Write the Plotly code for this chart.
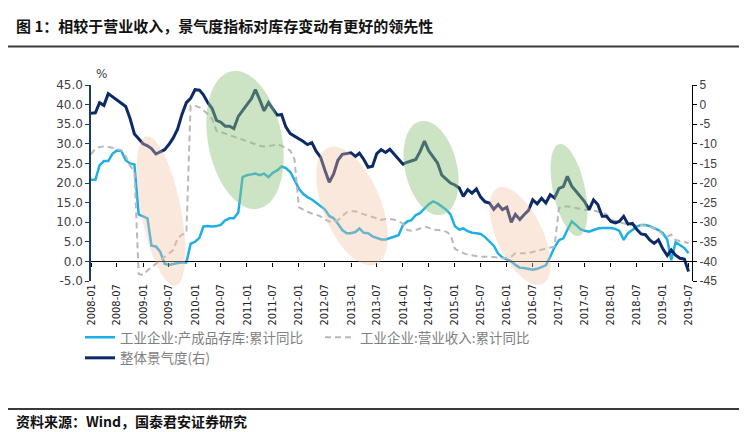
import numpy as np
import pandas as pd
import plotly.graph_objects as go

# ---------------- data ----------------
dates = pd.date_range("2008-01-01", periods=139, freq="MS")

# 工业企业:产成品存库:累计同比 (left axis, %)
inventory_yoy = [
    20.8, 20.8, 24.5, 25.6, 25.6, 27.5, 28.3, 28.2, 25.8, 25.0, 24.7, 12.0,
    11.5, 11.0, 4.0, 3.8, 2.5, -0.6, -0.9, -0.6, -0.4, -0.3, -0.3, 4.5,
    5.0, 6.0, 8.9, 9.0, 8.9, 9.0, 9.3, 10.5, 11.0, 11.0, 12.5, 21.5,
    22.0, 22.2, 22.4, 22.0, 22.4, 21.5, 22.6, 23.2, 24.2, 23.8, 22.8, 20.8,
    18.5, 17.2, 16.4, 15.8, 15.0, 14.1, 13.3, 11.6, 11.0, 9.6, 8.0, 7.2,
    7.2, 7.5, 8.4, 7.3, 7.2, 6.4, 6.0, 5.6, 5.6, 6.0, 6.3, 6.7,
    9.3, 10.2, 10.5, 11.8, 12.3, 13.4, 14.6, 15.3, 14.8, 14.0, 13.2, 12.0,
    9.0, 8.1, 8.4, 7.7, 7.3, 7.2, 7.0, 6.2, 5.0, 4.0, 2.0, 1.0,
    0.5, 0.0, -0.9, -1.6, -1.7, -2.0, -2.1, -1.9, -1.5, -1.0, 1.2, 3.6,
    5.4, 5.9, 8.0, 10.2, 9.3, 8.2, 7.8, 7.6, 8.0, 8.4, 8.5, 8.5,
    8.5, 8.3, 7.8, 5.5, 7.2, 8.0, 8.9, 9.3, 9.3, 9.0, 8.5, 8.0,
    7.2, 5.6, 0.3, 4.9, 4.2, 3.4, 2.1,
]

# 工业企业:营业收入:累计同比 (left axis, %)
revenue_yoy = [
    27.3, 28.8, 29.2, 29.3, 29.2, 29.0, 28.6, 28.4, 26.8, 24.5, 22.8, -3.2,
    -3.5, -2.3, -1.5, -0.6, 0.2, 1.0, 1.8, 2.9, 5.9, 6.8, 7.2, 39.7,
    39.7, 39.3, 38.5, 37.6, 36.4, 33.3, 33.0, 32.6, 32.2, 31.7, 31.3, 31.0,
    30.6, 30.2, 29.8, 29.5, 29.3, 29.4, 29.6, 29.8, 29.5, 28.8, 28.3, 26.0,
    13.8, 13.2, 12.7, 12.2, 11.9, 11.5, 10.7, 10.2, 10.2, 10.5, 11.6, 12.5,
    12.8, 12.8, 12.4, 12.0, 11.6, 11.2, 10.8, 10.6, 10.8, 10.8, 10.6, 10.3,
    9.6, 8.0, 7.8, 8.0, 8.4, 8.9, 8.6, 8.1, 8.0, 7.9, 7.6, 6.8,
    3.2, 2.6, 2.1, 1.7, 1.5, 1.3, 1.2, 1.2, 1.2, 1.1, 1.0, 0.8,
    0.9, 1.2, 2.1, 2.1, 2.1, 2.1, 2.4, 2.7, 3.0, 3.4, 3.6, 3.8,
    13.6, 14.0, 14.0, 13.9, 13.6, 13.4, 13.2, 13.2, 13.0, 12.8, 12.5, 12.0,
    10.6, 10.3, 10.1, 9.7, 9.4, 9.3, 9.3, 9.3, 9.1, 8.9, 8.4, 8.0,
    6.8, 6.4, 6.8, 5.5, 5.2, 5.0, 4.6,
]

# 整体景气度 (right axis)
climate_index = [
    -2.2, -2.1, 0.5, -0.2, 2.8, 2.0, 1.3, 0.5, -0.5, -3.5, -7.5, -8.7,
    -10.0, -10.5, -11.2, -12.6, -12.0, -11.5, -10.2, -8.5, -6.2, -2.5, 0.5, 1.6,
    3.8, 3.7, 2.5, 0.5, -1.0, -4.0, -4.5, -5.5, -5.5, -6.1, -3.0, -1.4,
    0.0, 1.5, 3.8, 1.2, -1.6, 0.5, -1.2, -2.7, -2.5, -5.7, -7.4, -8.0,
    -8.8, -9.4, -10.2, -9.7, -11.9, -13.4, -16.7, -19.8, -17.7, -14.2, -12.7, -12.5,
    -12.3, -13.2, -12.4, -14.0, -16.0, -15.7, -12.5, -11.5, -12.2, -11.4, -12.7, -13.8,
    -15.2, -14.7, -14.3, -14.0, -12.0, -9.3, -11.8, -13.2, -14.9, -18.0, -19.0, -20.0,
    -20.5, -21.3, -23.4, -21.7, -22.6, -21.5, -23.6, -24.8, -25.1, -26.7, -25.5, -26.8,
    -26.2, -30.0, -28.0, -29.3, -28.1, -27.0, -24.3, -25.3, -23.9, -25.1, -23.0, -23.8,
    -21.4, -20.9, -18.3, -20.8, -22.1, -23.5, -24.8, -26.8, -24.3, -25.5, -28.5, -28.5,
    -29.8, -30.2, -29.8, -28.5, -30.5, -30.3, -31.8, -33.0, -33.2, -34.5, -35.4, -34.5,
    -36.8, -38.5, -37.1, -38.4, -39.2, -39.4, -42.6,
]

left_tickvals = [-5, 0, 5, 10, 15, 20, 25, 30, 35, 40, 45]
left_ticktext = ["-5.0", "0.0", "5.0", "10.0", "15.0", "20.0", "25.0", "30.0", "35.0", "40.0", "45.0"]
right_tickvals = [-45, -40, -35, -30, -25, -20, -15, -10, -5, 0, 5]
right_ticktext = ["-45", "-40", "-35", "-30", "-25", "-20", "-15", "-10", "-5", "0", "5"]

names = ["工业企业:产成品存库:累计同比", "工业企业:营业收入:累计同比", "整体景气度(右)"]

# ---------------- layout helpers ----------------
W, H = 747, 432
PL, PR, PT, PB = 83, 684, 77, 273


def fx(px):
    return (px - PL) / (PR - PL)


def fy(py):
    return (PB - py) / (PB - PT)


def ellipse_path(cx, cy, a, b, tilt):
    t = np.linspace(0, 2 * np.pi, 73)
    th = np.radians(tilt)
    ux, uy = np.sin(th), np.cos(th)
    vx, vy = np.cos(th), -np.sin(th)
    px = cx + a * np.cos(t) * ux + b * np.sin(t) * vx
    py = cy + a * np.cos(t) * uy + b * np.sin(t) * vy
    pts = [f"{fx(x):.4f},{fy(y):.4f}" for x, y in zip(px, py)]
    return "M " + " L ".join(pts) + " Z"


GREEN = "rgba(145,195,125,0.45)"
PEACH = "rgba(245,190,160,0.36)"
highlight_specs = [
    (153, 203, 76, 20, 11, PEACH),
    (237, 132, 70, 37, 11, GREEN),
    (344, 198, 63, 29, 22, PEACH),
    (423, 160, 48, 26, 13, GREEN),
    (512, 228, 53, 23, 25, PEACH),
    (561, 182, 47, 16, 12, GREEN),
]

NAVY = "#0c2a66"
LIGHT = "#1eafe6"
GREY = "#b9b9b9"

fig = go.Figure()
fig.add_trace(go.Scatter(x=dates, y=inventory_yoy, name=names[0], mode="lines",
                         line=dict(color=LIGHT, width=2.5)))
fig.add_trace(go.Scatter(x=dates, y=revenue_yoy, name=names[1], mode="lines",
                         line=dict(color=GREY, width=2, dash="6px,4px")))
fig.add_trace(go.Scatter(x=dates, y=climate_index, name=names[2], mode="lines", yaxis="y2",
                         line=dict(color=NAVY, width=3)))
# carrier for the zero-positioned axis line with ticks
fig.add_trace(go.Scatter(x=dates, y=inventory_yoy, xaxis="x2", yaxis="y", mode="lines",
                         opacity=0, showlegend=False, hoverinfo="skip"))

xrange = ["2008-01-01", "2019-07-25"]
shapes = [
    dict(type="path", path=ellipse_path(*s[:5]), xref="paper", yref="paper",
         fillcolor=s[5], line=dict(width=0), layer="above")
    for s in highlight_specs
]
shapes += [
    dict(type="line", xref="paper", yref="paper", x0=fx(0), x1=fx(W), y0=fy(38.5), y1=fy(38.5),
         line=dict(color="#3a3a3a", width=2)),
    dict(type="line", xref="paper", yref="paper", x0=fx(0), x1=fx(W), y0=fy(401), y1=fy(401),
         line=dict(color="#3a3a3a", width=2)),
]

CJK = "Noto Sans CJK SC, sans-serif"
fig.update_layout(
    width=W, height=H,
    margin=dict(l=PL, r=W - PR, t=PT, b=H - PB, pad=0),
    paper_bgcolor="white", plot_bgcolor="white",
    showlegend=True,
    legend=dict(orientation="h", x=fx(72), y=fy(314), xanchor="left", yanchor="top",
                entrywidth=195, entrywidthmode="pixels",
                font=dict(family=CJK, size=13.5, color="#7f7f7f"),
                bgcolor="rgba(0,0,0,0)", tracegroupgap=0),
    xaxis=dict(type="date", range=xrange, dtick="M6", tick0="2008-01-01", tickformat="%Y-%m",
               tickangle=-90, ticks="", showline=False, showgrid=False, zeroline=False,
               tickfont=dict(family="Liberation Sans Narrow, DejaVu Sans Condensed, Arial Narrow, sans-serif",
                             size=11, color="#222222")),
    xaxis2=dict(type="date", range=xrange, dtick="M6", tick0="2008-01-01", overlaying="x",
                anchor="free", position=0.1, showticklabels=False,
                showline=True, linecolor="black", linewidth=1.2, ticks="outside", ticklen=4,
                tickcolor="black", showgrid=False, zeroline=False),
    yaxis=dict(range=[-5, 45], tickvals=left_tickvals, ticktext=left_ticktext,
               showline=True, linecolor="#1f3864", linewidth=1.5, ticks="outside", ticklen=4,
               tickcolor="#1f3864", showgrid=False, zeroline=False,
               tickfont=dict(family="DejaVu Sans, Verdana, sans-serif", size=12, color="#404040")),
    yaxis2=dict(range=[-45, 5], tickvals=right_tickvals, ticktext=right_ticktext,
                overlaying="y", side="right", anchor="x",
                showline=True, linecolor="black", linewidth=1.2, ticks="outside", ticklen=4,
                tickcolor="black", showgrid=False, zeroline=False,
                tickfont=dict(family="Liberation Sans, Arial, sans-serif", size=12, color="#404040")),
    shapes=shapes,
    annotations=[
        dict(text="%", xref="paper", yref="paper", x=fx(93), y=fy(66), xanchor="center",
             yanchor="middle", showarrow=False,
             font=dict(family="DejaVu Sans, sans-serif", size=12, color="#404040")),
        dict(text="<b>图 1：相较于营业收入，景气度指标对库存变动有更好的领先性</b>", xref="paper", yref="paper",
             x=fx(6), y=fy(17), xanchor="left", yanchor="middle", showarrow=False,
             font=dict(family=CJK, size=15, color="#111111")),
        dict(text="<b>资料来源：Wind，国泰君安证券研究</b>", xref="paper", yref="paper",
             x=fx(6), y=fy(413), xanchor="left", yanchor="middle", showarrow=False,
             font=dict(family=CJK, size=14, color="#111111")),
    ],
)

fig.write_html("out.html")
